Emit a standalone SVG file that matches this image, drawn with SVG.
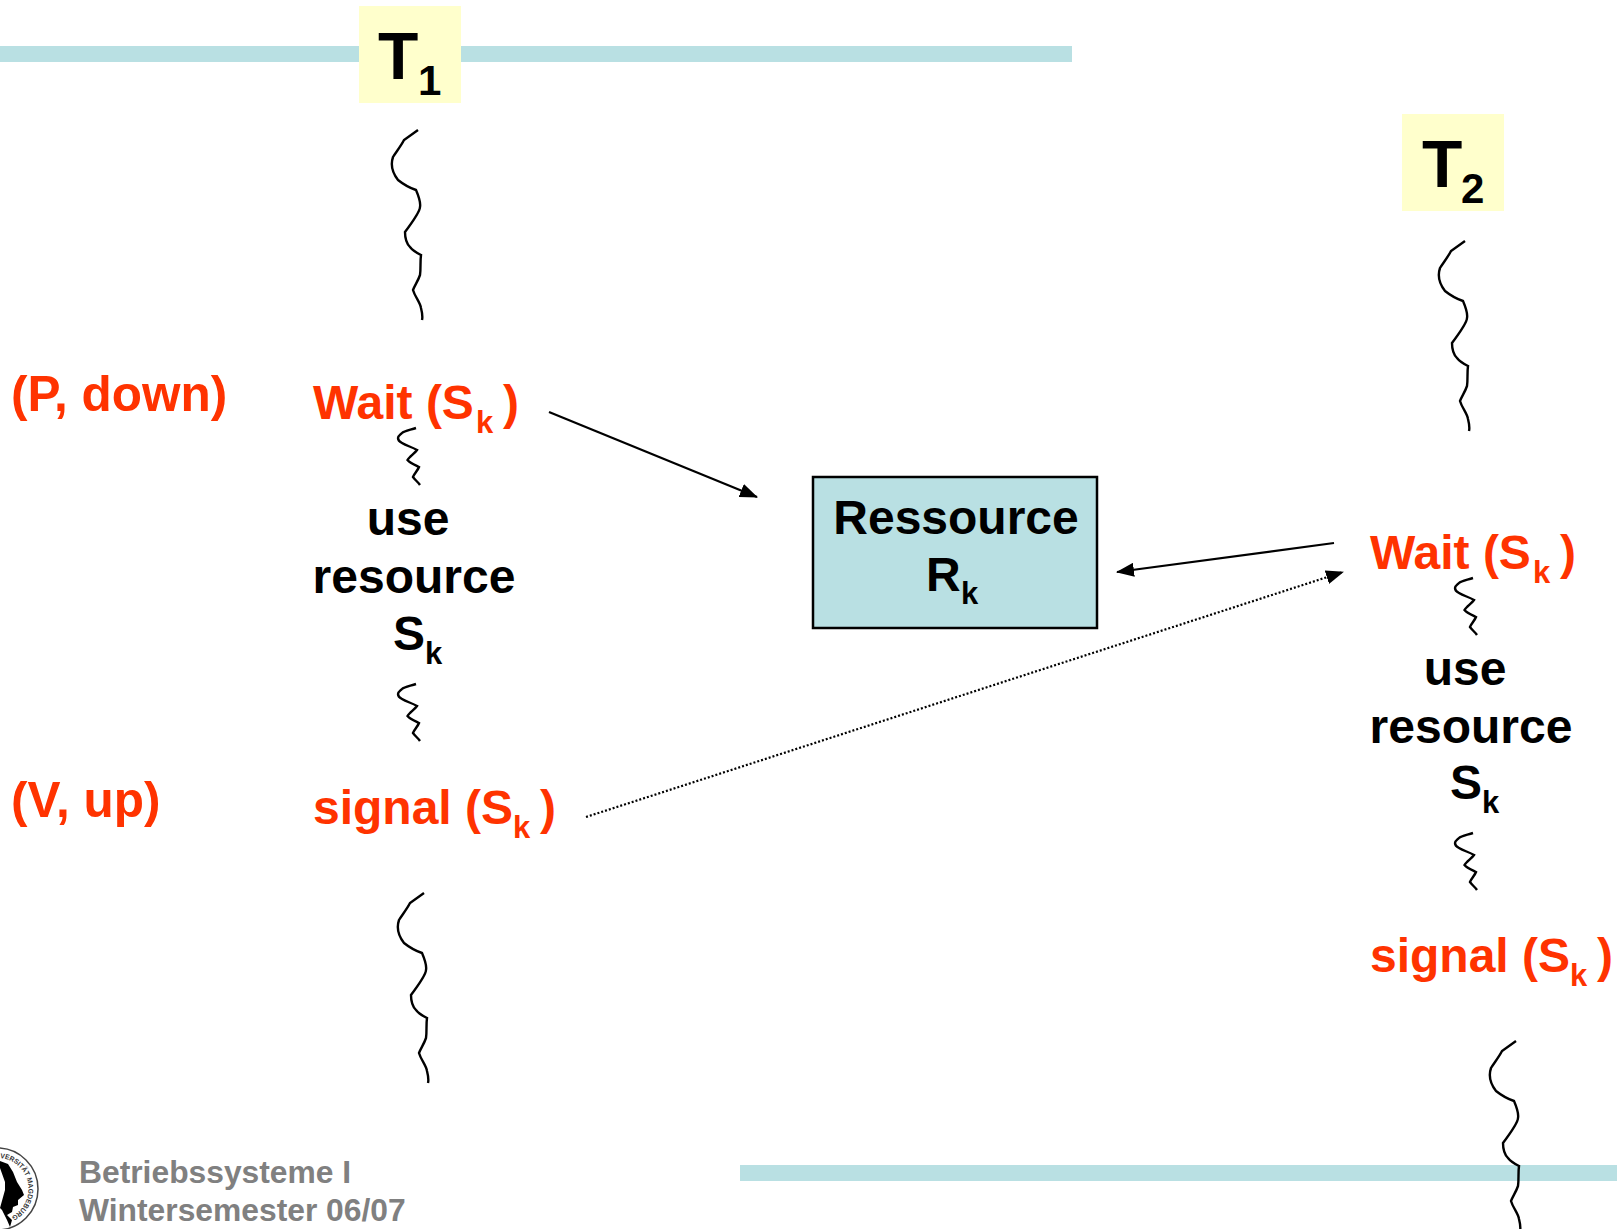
<svg xmlns="http://www.w3.org/2000/svg" xmlns:xlink="http://www.w3.org/1999/xlink" width="1617" height="1229" viewBox="0 0 1617 1229">
<style>
text{font-family:"Liberation Sans",Arial,sans-serif;font-weight:700}
.red{fill:#ff3300;font-size:48px}
.lft{font-size:49.5px}
.blk{fill:#000;font-size:48px}
.sub{font-size:31px}
.t{font-size:66px}
.ts{font-size:42px}
.foot{fill:#808080;font-size:31.8px}
.sq{fill:none;stroke:#000;stroke-width:2.4}
.band{fill:#b9e0e3}
.lab{fill:#ffffcc}
.ln{fill:none;stroke:#000;stroke-width:2.2}
</style>
<defs>
<marker id="ah" markerUnits="userSpaceOnUse" markerWidth="18" markerHeight="14" refX="17" refY="7" orient="auto"><path d="M0 0L18 7L0 14z" fill="#000"/></marker>
<path id="lg" d="M418 130L404 140C401 146 396 152 393 157C391 163 391 171 398 180C403 184 410 188 416 190C419 197 421 202 420 207C420 212 411 224 405 232C405 238 406 243 410 247C413 251 417 253 421 255C420 262 421 268 420 275C418 281 415 285 413 290C415 297 420 302 421 308C422 312 423 316 422 320"/>
<path id="sm" d="M416 428C410 430 404 431 402 433C400 435 398 436 398 438C398 440 400 442 402 443C407 446 412 447 417 450C415 453 409 457 407.5 460C410 463 415 465 419 467C418 470 414 474 413 477C415 480 418 482 420 485"/>
<path id="arc" d="M0 1158A31 31 0 0 1 12.5 1216"/>
</defs>
<g id="bands">
<rect class="band" x="0" y="46" width="1072" height="16"/>
<rect class="band" x="740" y="1165" width="877" height="16"/>
</g>
<g id="seal">
<circle cx="-3" cy="1189" r="41" fill="#fff" stroke="#444" stroke-width="1.5"/>
<text font-size="7" fill="#333"><textPath xlink:href="#arc" textLength="80" lengthAdjust="spacingAndGlyphs">VERSITÄT MAGDEBURG</textPath></text>
<path d="M0 1161L8 1164L13 1172L17 1182L22 1190L24 1195L18 1200L18 1205L13 1207L12 1212L7 1215L12 1220L10 1227L7 1220L2 1210L0 1208L5 1190L5 1182L0 1168z" fill="#000"/>
</g>
<g id="T1"><rect class="lab" x="359" y="6" width="102" height="97"/><text class="t" x="378" y="79">T</text><text class="ts" x="418" y="95">1</text></g>
<g id="T2"><rect class="lab" x="1402" y="114" width="102" height="97"/><text class="t" x="1422" y="187">T</text><text class="ts" x="1461" y="203">2</text></g>
<g id="squiggles">
<use href="#lg" class="sq"/>
<use href="#lg" class="sq" x="1047" y="111"/>
<use href="#lg" class="sq" x="6" y="763"/>
<use href="#lg" class="sq" x="1098" y="911"/>
<use href="#sm" class="sq"/>
<use href="#sm" class="sq" y="256"/>
<use href="#sm" class="sq" x="1057" y="150"/>
<use href="#sm" class="sq" x="1057" y="405"/>
</g>
<g id="connectors">
<path class="ln" d="M549 412L757 497" marker-end="url(#ah)"/>
<path class="ln" d="M1334 543L1117 572" marker-end="url(#ah)"/>
<path class="ln" d="M586 817L1343 572" stroke-dasharray="2 2" marker-end="url(#ah)"/>
</g>
<g id="resource"><rect x="813" y="477" width="284" height="151" fill="#b9e0e3" stroke="#000" stroke-width="2.5"/>
<text class="blk" x="956" y="534" text-anchor="middle">Ressource</text>
<text class="blk" x="926" y="591">R</text><text class="blk sub" x="961" y="604">k</text></g>
<g id="left-labels">
<text class="red lft" x="11" y="411">(P, down)</text>
<text class="red lft" x="11" y="817">(V, up)</text>
</g>
<g id="t1-steps">
<text class="red" x="313" y="419">Wait (S</text><text class="red sub" x="476" y="433">k</text><text class="red" x="503" y="419">)</text>
<text class="blk" x="408" y="535" text-anchor="middle">use</text>
<text class="blk" x="414" y="593" text-anchor="middle">resource</text>
<text class="blk" x="393" y="650">S</text><text class="blk sub" x="425" y="664">k</text>
<text class="red" x="313" y="824">signal (S</text><text class="red sub" x="513" y="838">k</text><text class="red" x="540" y="824">)</text>
</g>
<g id="t2-steps">
<text class="red" x="1370" y="569">Wait (S</text><text class="red sub" x="1533" y="583">k</text><text class="red" x="1560" y="569">)</text>
<text class="blk" x="1465" y="685" text-anchor="middle">use</text>
<text class="blk" x="1471" y="743" text-anchor="middle">resource</text>
<text class="blk" x="1450" y="799">S</text><text class="blk sub" x="1482" y="813">k</text>
<text class="red" x="1370" y="972">signal (S</text><text class="red sub" x="1570" y="986">k</text><text class="red" x="1597" y="972">)</text>
</g>
<g id="footer">
<text class="foot" x="79" y="1183">Betriebssysteme I</text>
<text class="foot" x="79" y="1221">Wintersemester 06/07</text>
</g>
</svg>
